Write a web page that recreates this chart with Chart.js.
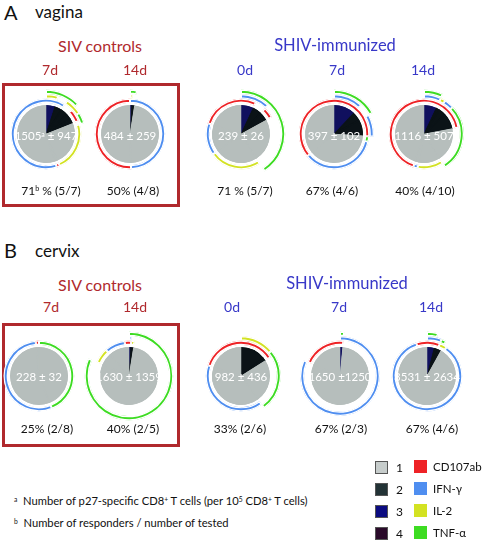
<!DOCTYPE html>
<html>
<head>
<meta charset="utf-8">
<script src="https://cdn.jsdelivr.net/npm/chart.js@4.4.1/dist/chart.umd.min.js"></script>
<style>
  body { margin: 0; width: 482px; height: 546px; position: relative; background: #fff; overflow: hidden;
         font-family: Lato, 'Open Sans', sans-serif; color: #111; }
  .t { position: absolute; white-space: nowrap; transform: translate(-50%, -50%); line-height: 1; }
  .l { position: absolute; white-space: nowrap; transform: translate(0, -50%); line-height: 1; }
  .box { position: absolute; border: 3px solid #b0292d; box-sizing: border-box; }
  .sq { position: absolute; width: 13px; height: 13px; box-sizing: border-box; }
  canvas { position: absolute; }
  sup { font-size: 0.6em; vertical-align: 0.5em; line-height: 0; }
</style>
</head>
<body>
<script>
// ---- data ----
const tissues = ['vagina', 'cervix'];
const groupTitles = ['SIV controls', 'SHIV-immunized'];
const timepoints = ['7d', '14d', '0d', '7d', '14d'];
const markerNames = ['CD107ab', 'IFN-γ', 'IL-2', 'TNF-α'];
const markerKeys = ['C', 'I', 'L', 'T'];
const functionCounts = ['1', '2', '3', '4'];

// slices clockwise from 12 o'clock: % of response, and the markers each slice expresses
const vagSiv7Values = [5, 4, 4, 3, 3, 1.5, 23, 1.5, 55];
const vagSiv7Codes = ['ILT', 'IT', 'LT', 'CL', 'CT', 'T', 'L', 'C', 'I'];
const vagSiv14Values = [1, 1.5, 47, 50.5];
const vagSiv14Codes = ['ILT', 'IT', 'I', 'C'];
const vagShiv0Values = [7, 5, 5, 24, 24, 15, 20];
const vagShiv0Codes = ['CIT', 'IT', 'CT', 'T', 'L', 'I', 'C'];
const vagShiv7Values = [12, 5, 9, 2.5, 35.5, 36];
const vagShiv7Codes = ['CIT', 'CT', 'CI', 'T', 'I', 'C'];
const vagShiv14Values = [7, 2, 4, 9, 19, 12, 2, 45];
const vagShiv14Codes = ['CIT', 'CL', 'CI', 'CT', 'T', 'L', 'I', 'C'];

const cerSiv7Values = [44, 54.5, 1.5];
const cerSiv7Codes = ['T', 'I', 'C'];
const cerSiv14Values = [1, 1.5, 79, 7, 9.5, 2];
const cerSiv14Codes = ['CIT', 'LT', 'T', 'L', 'I', 'C'];
const cerShiv0Values = [14, 2, 24, 40, 20];
const cerShiv0Codes = ['CL', 'CT', 'T', 'I', 'C'];
const cerShiv7Values = [1.5, 80, 18.5];
const cerShiv7Codes = ['CIT', 'I', 'C'];
const cerShiv14Values = [4, 2, 2, 1.5, 85.5, 5];
const cerShiv14Codes = ['CIT', 'CI', 'LT', 'L', 'I', 'C'];

const vaginaCounts = ['1505^a ± 947', '484 ± 259', '239 ± 26', '397 ± 102', '1116 ± 507'];
const cervixCounts = ['228 ± 32', '1630 ± 1359', '982 ± 436', '1650 ±1250', '3531 ± 2634'];
const vaginaResponders = ['71^b %  (5/7)', '50% (4/8)', '71 %  (5/7)', '67% (4/6)', '40% (4/10)'];
const cervixResponders = ['25% (2/8)', '40% (2/5)', '33% (2/6)', '67% (2/3)', '67% (4/6)'];

// ---- styles ----
const sliceColors = ['#b6bebc', '#0b1317', '#10105e', '#2b0b2e'];
const legendSliceColors = ['#c6cccb', '#233336', '#0b0b80', '#2a0a2a'];
const markerColors = ['#ee2226', '#4f8ef0', '#d3e222', '#3ddc22'];
const red = '#b0292d', blue = '#3838c8';

function sup(s) { return s.replace(/\^(\w)/g, '<sup>$1</sup>'); }

function text(html, x, y, size, color, cls) {
  const d = document.createElement('div');
  d.className = cls || 't';
  d.innerHTML = html;
  d.style.left = x + 'px';
  d.style.top = y + 'px';
  d.style.fontSize = size + 'px';
  if (color) d.style.color = color;
  document.body.appendChild(d);
  return d;
}

// stack each marker's contiguous arc on the lowest ring that is free over its slices
function ringLayers(values, codes) {
  const n = values.length;
  const total = values.reduce((a, b) => a + b, 0);
  const owner = [0, 1, 2, 3].map(() => new Array(n).fill(-1));
  const runColor = [];
  markerKeys.forEach((m, mi) => {
    const has = codes.map(c => c.includes(m));
    const all = has.every(Boolean);
    for (let i = 0; i < n; i++) {
      if (!has[i]) continue;
      if (all ? i > 0 : has[(i - 1 + n) % n]) continue;
      const cover = [];
      for (let k = i; has[k % n] && cover.length < n; k++) cover.push(k % n);
      let layer = 0;
      while (layer < 3 && cover.some(s => owner[layer][s] >= 0)) layer++;
      const id = runColor.length;
      runColor.push(markerColors[mi]);
      cover.forEach(s => { owner[layer][s] = id; });
    }
  });
  return owner.map(row => {
    let s0 = row.findIndex((r, i) => r !== row[(i - 1 + n) % n]);
    if (s0 < 0) s0 = 0;
    let start = 0;
    for (let i = 0; i < s0; i++) start += values[i];
    const data = [], colors = [], widths = [];
    for (let k = 0; k < n; k++) {
      const i = (s0 + k) % n;
      if (k > 0 && row[i] === row[(i - 1 + n) % n]) { data[data.length - 1] += values[i]; continue; }
      data.push(values[i]);
      colors.push(row[i] >= 0 ? runColor[row[i]] : 'rgba(0,0,0,0)');
      widths.push(row[i] >= 0 ? 1 : 0);
    }
    return { data, backgroundColor: colors, borderWidth: widths, rotation: start / total * 360 };
  });
}

function drawPie(cx, cy, values, codes) {
  const canvas = document.createElement('canvas');
  canvas.width = 100; canvas.height = 100;
  canvas.style.left = (cx - 50) + 'px';
  canvas.style.top = (cy - 50) + 'px';
  document.body.appendChild(canvas);
  const layers = ringLayers(values, codes);
  const spacer = w => ({ data: [1], backgroundColor: ['rgba(0,0,0,0)'], borderWidth: 0, weight: w });
  const datasets = [spacer(1)];
  for (let k = 3; k >= 0; k--) {
    datasets.push(Object.assign({}, layers[k], { borderColor: '#fff', borderAlign: 'inner', weight: 4.5 }));
  }
  datasets.push(spacer(2));
  const fills = codes.map(c => sliceColors[c.length - 1]);
  datasets.push({
    data: values,
    backgroundColor: fills,
    borderColor: fills,      // same colour as the fill hides anti-alias seams between slices
    borderWidth: 0.8,
    borderAlign: 'inner',
    weight: 29
  });
  datasets.forEach(d => { d.hoverBorderWidth = 0; d.hoverOffset = 0; });
  new Chart(canvas, {
    type: 'pie',
    data: { labels: codes, datasets },
    options: {
      responsive: false,
      animation: false,
      events: [],
      layout: { padding: 0 },
      plugins: { legend: { display: false }, tooltip: { enabled: false } }
    }
  });
}

// ---- layout ----
const rowA = { y: 134, xs: [46, 130, 241, 334, 424] };
const rowB = { y: 376, xs: [39, 129, 241, 340, 427] };

const vaginaPies = [
  [vagSiv7Values, vagSiv7Codes], [vagSiv14Values, vagSiv14Codes], [vagShiv0Values, vagShiv0Codes],
  [vagShiv7Values, vagShiv7Codes], [vagShiv14Values, vagShiv14Codes]
];
const cervixPies = [
  [cerSiv7Values, cerSiv7Codes], [cerSiv14Values, cerSiv14Codes], [cerShiv0Values, cerShiv0Codes],
  [cerShiv7Values, cerShiv7Codes], [cerShiv14Values, cerShiv14Codes]
];

// boxes round the SIV controls
[[83, 207], [323, 447]].forEach(([top, bottom]) => {
  const b = document.createElement('div');
  b.className = 'box';
  Object.assign(b.style, { left: '2px', top: top + 'px', width: '178px', height: (bottom - top) + 'px' });
  document.body.appendChild(b);
});

vaginaPies.forEach(([v, c], i) => drawPie(rowA.xs[i], rowA.y, v, c));
cervixPies.forEach(([v, c], i) => drawPie(rowB.xs[i], rowB.y, v, c));

// panel headings
text('A', 4, 12, 20, '#111', 'l');
text(tissues[0], 35, 11, 17, '#111', 'l');
text('B', 4, 250, 20, '#111', 'l');
text(tissues[1], 35, 250, 17, '#111', 'l');

text(groupTitles[0], 100, 46, 16, red);
text(groupTitles[1], 335, 45, 16.5, blue);
text(groupTitles[0], 100, 285, 16, red);
text(groupTitles[1], 347, 283, 16.5, blue);

const tpA = [50, 135, 245, 337, 423];
const tpB = [51, 135, 232, 339, 431];
timepoints.forEach((t, i) => {
  text(t, tpA[i], 70, 14, i < 2 ? red : blue);
  text(t, tpB[i], 307, 14, i < 2 ? red : blue);
});

vaginaCounts.forEach((s, i) => text(sup(s), rowA.xs[i], rowA.y + 2, 11.5, '#fff'));
cervixCounts.forEach((s, i) => text(sup(s), rowB.xs[i], rowB.y + 1, 11.5, '#fff'));

const respA = [51, 133, 245, 332, 425];
const respB = [47, 133, 240, 341, 432];
vaginaResponders.forEach((s, i) => text(sup(s), respA[i], 191, 12, '#111'));
cervixResponders.forEach((s, i) => text(sup(s), respB[i], 429, 12, '#111'));

// footnotes
text('<sup>a</sup>&nbsp; Number of p27-specific CD8<sup>+</sup> T cells (per 10<sup>5</sup> CD8<sup>+</sup> T cells)', 14, 501, 11.2, '#111', 'l');
text('<sup>b</sup>&nbsp; Number of responders / number of tested', 14, 523, 11.2, '#111', 'l');

// legend
const legendY = [467, 489, 511, 533];
functionCounts.forEach((f, i) => {
  const s = document.createElement('div');
  s.className = 'sq';
  Object.assign(s.style, { left: '375px', top: (legendY[i] - 6.5) + 'px', background: legendSliceColors[i], border: '1px solid #555' });
  document.body.appendChild(s);
  text(f, 396, legendY[i] + 1, 12, '#111', 'l');
  const m = document.createElement('div');
  m.className = 'sq';
  Object.assign(m.style, { left: '414px', top: (legendY[i] - 7) + 'px', background: markerColors[i] });
  document.body.appendChild(m);
  text(markerNames[i], 433, legendY[i], 11.5, '#111', 'l');
});
</script>
</body>
</html>
